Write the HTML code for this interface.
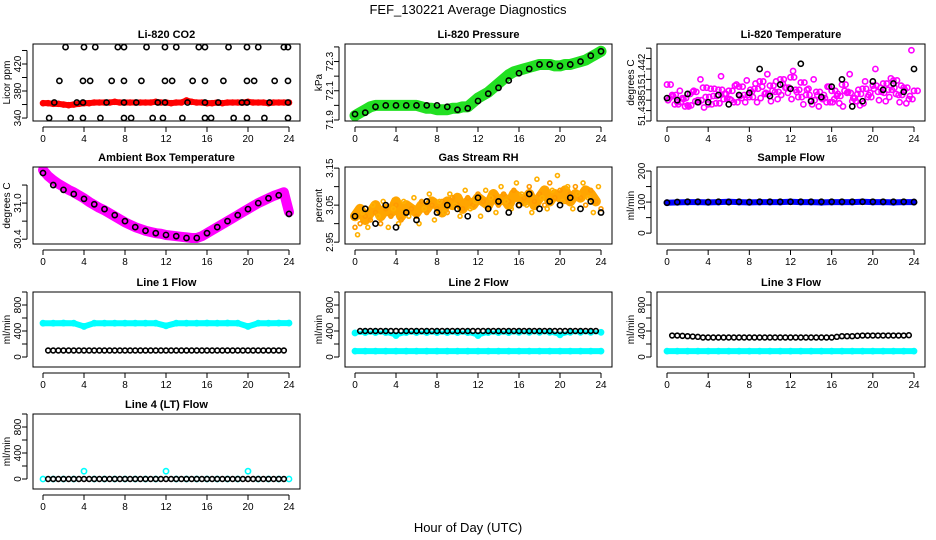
<!DOCTYPE html>
<html><head><meta charset="utf-8"><style>
body{margin:0;background:#fff;}
svg{display:block;font-family:"Liberation Sans",sans-serif;}
</style></head><body>
<svg id="c" width="936" height="540" viewBox="0 0 936 540" xmlns="http://www.w3.org/2000/svg">
<text x="468" y="14" text-anchor="middle" font-size="13">FEF_130221  Average Diagnostics</text>
<text x="468" y="532" text-anchor="middle" font-size="13">Hour of Day (UTC)</text>
</svg>
<script>
const xTicks=[0,4,8,12,16,20,24];
const co2Red=[362,362,361,361,360,359,360,361,362,362,363,363,363,363,364,363,363,363,363,363,363,363,364,363,363,362,363,363,366,364,363,363,362,362,363,362,363,363,363,363,364,363,363,363,362,363,363,363,363];
const co2BlackX=[2.2,4,5.1,7.3,7.9,10.1,11.9,13,15.2,15.8,18.1,19.9,21,23.5,23.9,1.6,3.9,4.6,6.7,7.9,9.6,11.9,12.6,14.6,15.8,17.6,19.9,20.6,22.6,23.9,1.1,3.3,3.9,6.2,7.9,9.1,11.2,11.9,14.1,15.8,17.1,19.4,19.9,22.1,23.9,0.6,2.7,3.9,5.6,7.9,8.6,10.7,11.7,13.6,15.8,16.4,18.6,19.9,21.6,23.9];
const co2BlackY=[445,445,445,445,445,445,445,445,445,445,445,445,445,445,445,395,395,395,395,395,395,395,395,395,395,395,395,395,395,395,363,363,363,363,363,363,363,363,363,363,363,363,363,363,363,340,340,340,340,340,340,340,340,340,340,340,340,340,340,340];
const presGreen=[71.93,71.95,71.97,71.99,72.0,72.0,72.0,72.0,72.0,72.0,72.0,72.0,72.0,71.99,71.98,71.98,71.97,71.97,71.97,71.98,71.98,71.99,71.99,72.02,72.05,72.07,72.09,72.12,72.15,72.18,72.21,72.23,72.24,72.25,72.26,72.27,72.28,72.28,72.28,72.27,72.27,72.28,72.28,72.29,72.3,72.31,72.33,72.35,72.37];
const presBlack=[71.94,71.95,71.99,72.0,72.0,72.0,72.0,72.0,72.0,71.99,71.97,71.98,72.03,72.08,72.12,72.17,72.22,72.25,72.28,72.28,72.27,72.28,72.3,72.34,72.37];
const tempM1=[51.4405,51.4395,51.4388,51.4392,51.4385,51.4398,51.4390,51.4402,51.4386,51.4394,51.4400,51.4391,51.4399,51.4388,51.4403,51.4395,51.4393,51.4401,51.4408,51.4396,51.4404,51.4398,51.4410,51.4402,51.4412,51.4400,51.4407,51.4395,51.4390,51.4398,51.4392,51.4388,51.4399,51.4394,51.4405,51.4397,51.4389,51.4396,51.4401,51.4393,51.4404,51.4398,51.4406,51.4400,51.4409,51.4395,51.4402,51.4391,51.4399];
const tempM2=[51.4392,51.4386,51.4399,51.4384,51.4396,51.4389,51.4410,51.4393,51.4401,51.4387,51.4413,51.4396,51.4390,51.4405,51.4392,51.4409,51.4398,51.4388,51.4403,51.4415,51.4399,51.4391,51.4406,51.4397,51.4418,51.4393,51.4386,51.4401,51.4410,51.4384,51.4395,51.4403,51.4391,51.4387,51.4399,51.4415,51.4392,51.4385,51.4408,51.4397,51.4420,51.4402,51.4389,51.4411,51.4396,51.4404,51.4387,51.4438];
const tempM3=[51.4390,51.4394,51.4386,51.4391,51.4384,51.4399,51.4388,51.4383,51.4393,51.4401,51.4387,51.4396,51.4391,51.4404,51.4394,51.4388,51.4400,51.4406,51.4392,51.4397,51.4389,51.4408,51.4395,51.4402,51.4391,51.4398,51.4393,51.4400,51.4386,51.4395,51.4391,51.4403,51.4388,51.4396,51.4384,51.4398,51.4392,51.4400,51.4387,51.4395,51.4401,51.4390,51.4397,51.4393,51.4402,51.4388,51.4400,51.4394];
const tempK=[51.4392,51.4390,51.4396,51.4388,51.4388,51.4395,51.4386,51.4395,51.4397,51.4420,51.4394,51.4405,51.4401,51.4425,51.4389,51.4393,51.4403,51.4410,51.4384,51.4389,51.4408,51.4400,51.4406,51.4398,51.4420];
const ambM=[31.55,31.45,31.38,31.32,31.27,31.22,31.18,31.13,31.08,31.02,30.97,30.92,30.88,30.83,30.78,30.73,30.68,30.64,30.6,30.57,30.54,30.52,30.5,30.49,30.47,30.46,30.45,30.44,30.43,30.42,30.42,30.45,30.5,30.55,30.6,30.65,30.7,30.75,30.8,30.85,30.9,30.95,31.0,31.04,31.08,31.12,31.15,31.18,30.85];
const ambK=[31.5,31.3,31.22,31.15,31.07,30.98,30.9,30.8,30.7,30.6,30.54,30.5,30.47,30.45,30.42,30.42,30.5,30.6,30.7,30.8,30.9,31.0,31.08,31.13,30.82];
const rh1=[2.99,3.00,3.02,3.01,3.03,3.00,3.04,3.02,3.05,3.01,3.03,3.04,3.02,3.06,3.03,3.05,3.04,3.06,3.03,3.07,3.05,3.04,3.07,3.05,3.08,3.06,3.04,3.07,3.05,3.08,3.06,3.09,3.05,3.07,3.10,3.06,3.08,3.05,3.11,3.07,3.09,3.06,3.08,3.10,3.07,3.05,3.09,3.06,3.04];
const rh2=[2.97,3.03,2.99,3.05,3.02,3.06,2.99,3.04,3.00,3.06,3.02,3.07,3.00,3.04,3.08,3.01,3.06,3.03,3.08,3.05,3.02,3.09,3.04,3.06,3.02,3.09,3.07,3.03,3.10,3.06,3.04,3.11,3.08,3.05,3.03,3.12,3.07,3.04,3.09,3.13,3.06,3.10,3.04,3.08,3.11,3.07,3.03,3.10];
const rh3=[3.02,3.04,3.01,3.03,3.05,3.02,3.04,3.03,3.06,3.02,3.05,3.04,3.03,3.05,3.04,3.06,3.05,3.03,3.06,3.05,3.07,3.04,3.06,3.05,3.07,3.06,3.05,3.08,3.06,3.07,3.05,3.08,3.07,3.06,3.08,3.05,3.07,3.09,3.06,3.08,3.07,3.09,3.06,3.08,3.07,3.09,3.08,3.06];
const rhK=[3.02,3.04,3.00,3.05,2.99,3.03,3.01,3.06,3.03,3.05,3.04,3.02,3.07,3.04,3.06,3.03,3.05,3.08,3.04,3.06,3.05,3.07,3.04,3.06,3.03];
const sampleBlue=[98,99,100,100,99,100,101,100,99,100,100,100,101,100,100,99,100,100,100,101,100,100,99,100,100];
const sampleBlack=[98,100,101,101,100,101,100,101,100,101,101,101,101,101,101,101,101,101,101,101,101,101,101,101,100];
const line1Cyan=[520,520,522,520,470,520,520,520,520,520,520,520,480,520,520,520,522,520,522,520,470,520,520,522,522];
const line1Black=[100,100,100,100,100,100,100,100,100,100,100,100,100,100,100,100,100,100,100,100,100,100,100,100,100,100,100,100,100,100,100,100,100,100,100,100,100,100,100,100,100,100,100,100,100,100,100];
const line2Cyan=[90,90,90,90,90,90,90,90,90,90,90,90,90,90,90,90,90,90,90,90,90,90,90,90,90];
const line2CyanHi=[370,375,375,375,330,375,375,375,375,375,375,375,330,375,375,375,380,380,380,380,340,380,380,380,380];
const line2Black=[400,400,400,400,400,400,400,400,400,400,400,400,400,400,400,400,400,400,400,400,400,400,400,400,400,400,400,400,400,400,400,400,400,400,400,400,400,400,400,400,400,400,400,400,400,400,400];
const line3Cyan=[90,90,90,90,90,90,90,90,90,90,90,90,90,90,90,90,90,90,90,90,90,90,90,90,90];
const line3Black=[330,330,325,320,315,310,300,300,300,300,300,300,300,300,300,300,300,300,300,300,300,300,300,300,300,300,300,300,300,300,300,300,310,320,320,320,325,330,330,330,330,330,330,330,330,330,335];
const line4Cyan=[0,0,0,0,120,0,0,0,0,0,0,0,120,0,0,0,0,0,0,0,120,0,0,0,0];
const line4Black=[0,0,0,0,0,0,0,0,0,0,0,0,0,0,0,0,0,0,0,0,0,0,0,0,0,0,0,0,0,0,0,0,0,0,0,0,0,0,0,0,0,0,0,0,0,0,0];

const svg=document.getElementById('c');
const NS='http://www.w3.org/2000/svg';
function mk(tag,attrs,parent){const e=document.createElementNS(NS,tag);for(const k in attrs)e.setAttribute(k,attrs[k]);(parent||svg).appendChild(e);return e;}
const cols=[[33,300],[345,612],[657,925]];
const rows=[[44,121],[167,244],[292,367],[414,489]];

function panel(name,col,row,title,ylab,ylim,yt,ytl,series){
  const g=mk('g',{});
  
  
  const [L,R]=cols[col],[T,B]=rows[row];
  const x0=L+10,x1=R-11;
  const sx=v=>x0+(x1-x0)*v/24;
  const sy=v=>B-(B-T)*(v-ylim[0])/(ylim[1]-ylim[0]);
  const t=mk('text',{x:(L+R)/2,y:T-6,'text-anchor':'middle','font-size':'11','font-weight':'bold'},g);
  t.textContent=title;
  
  
  const clip='cl'+name;
  const cp=mk('clipPath',{id:clip},g);mk('rect',{x:L,y:T,width:R-L,height:B-T},cp);
  const pg=mk('g',{'clip-path':'url(#'+clip+')'},g);
  series.forEach(s=>{
    const n=s.y.length;
    const xs=s.y.map((v,i)=>s.x?s.x[i]:s.start+i*s.step);
    if(s.band){
      const p=mk('polyline',{points:xs.map((x,i)=>sx(x)+','+sy(s.y[i])).join(' '),fill:'none',stroke:s.color,'stroke-width':s.band,'stroke-linejoin':'round','stroke-linecap':'round'},pg);
      
      
    }
    if(s.pts!==false){
      for(let i=0;i<n;i++){
        const c=mk('circle',{cx:sx(xs[i]),cy:sy(s.y[i]),r:s.r||2.6,fill:'none',stroke:s.color,'stroke-width':s.sw||1.6},pg);
        
        
      }
    }
  });
  mk('rect',{x:L,y:T,width:R-L,height:B-T,fill:'none',stroke:'#000','stroke-width':1},g);
  mk('line',{x1:x0,x2:x1,y1:B+6,y2:B+6,stroke:'#000'},g);
  xTicks.forEach(v=>{mk('line',{x1:sx(v),x2:sx(v),y1:B+6,y2:B+11,stroke:'#000'},g);
      const tl=mk('text',{x:sx(v),y:B+21,'text-anchor':'middle','font-size':'10'},g);tl.textContent=v;
      
      
  });
  mk('line',{x1:L-6,x2:L-6,y1:sy(yt[0]),y2:sy(yt[yt.length-1]),stroke:'#000'},g);
  yt.forEach((v,i)=>{mk('line',{x1:L-6,x2:L-11,y1:sy(v),y2:sy(v),stroke:'#000'},g);
    if(ytl[i]!==''){const tl=mk('text',{x:0,y:0,'text-anchor':'middle','font-size':'10',transform:`translate(${L-12},${sy(v)}) rotate(-90)`},g);tl.textContent=ytl[i];
    
    }
  });
  const yl=mk('text',{x:0,y:0,'text-anchor':'middle','font-size':'10',transform:`translate(${L-23},${(T+B)/2}) rotate(-90)`},g);
  yl.textContent=ylab;
  
  
}
const flowT=[0,200,400,600,800,1000],flowL=['0','','400','','800',''];
panel('co2',0,0,'Li-820 CO2','Licor ppm',[335.6,449.6],[340,360,380,400,420,440],['340','','380','','420',''],
 [{start:0,step:0.5,y:co2Red,color:'#ff0000',band:6,r:2.5},{x:co2BlackX,y:co2BlackY,color:'#000'}]);
panel('pressure',1,0,'Li-820 Pressure','kPa',[71.893,72.42],[71.9,72.0,72.1,72.2,72.3,72.4],['71.9','','72.1','','72.3',''],
 [{start:0,step:0.5,y:presGreen,color:'#22e022',band:11,pts:false},{start:0,step:1,y:presBlack,color:'#000'}]);
panel('li820-temp',2,0,'Li-820 Temperature','degrees C',[51.437,51.4444],[51.437,51.438,51.439,51.44,51.441,51.442,51.443,51.444],['','51.438','','51','','51.442','',''],
 [{start:0,step:0.5,y:tempM1,color:'#ff00ff'},{start:0.25,step:0.5,y:tempM2,color:'#ff00ff'},{start:0.1,step:0.5,y:tempM3,color:'#ff00ff'},{start:0.35,step:0.5,y:tempM1,color:'#ff00ff'},{start:0,step:1,y:tempK,color:'#000'}]);
panel('ambient-temp',0,1,'Ambient Box Temperature','degrees C',[30.32,31.6],[30.4,30.7,31.0,31.3],['30.4','','31.0',''],
 [{start:0,step:0.5,y:ambM,color:'#ff00ff',band:10,pts:false},{start:0,step:1,y:ambK,color:'#000'}]);
panel('gas-rh',1,1,'Gas Stream RH','percent',[2.945,3.153],[2.95,3.0,3.05,3.1,3.15],['2.95','','3.05','','3.15'],
 [{start:0,step:0.5,y:rh3,color:'#ffa500',band:10,pts:false},{start:0,step:0.5,y:rh1,color:'#ff9a00',r:2},{start:0.25,step:0.5,y:rh2,color:'#ffb000',r:2},{start:0,step:1,y:rhK,color:'#000'}]);
panel('sample-flow',2,1,'Sample Flow','ml/min',[-35,213],[0,50,100,150,200],['0','','100','','200'],
 [{start:0,step:1,y:sampleBlue,color:'#0000ff',band:6},{start:0,step:1,y:sampleBlack,color:'#000'}]);
panel('line1-flow',0,2,'Line 1 Flow','ml/min',[-154,1000],flowT,flowL,
 [{start:0,step:1,y:line1Cyan,color:'#00ffff',band:6},{start:0.5,step:0.5,y:line1Black,color:'#000',r:2.4}]);
panel('line2-flow',1,2,'Line 2 Flow','ml/min',[-154,1000],flowT,flowL,
 [{start:0,step:1,y:line2Cyan,color:'#00ffff',band:6},{start:0,step:1,y:line2CyanHi,color:'#00ffff',band:4},{start:0.5,step:0.5,y:line2Black,color:'#000',r:2.4}]);
panel('line3-flow',2,2,'Line 3 Flow','ml/min',[-154,1000],flowT,flowL,
 [{start:0,step:1,y:line3Cyan,color:'#00ffff',band:6},{start:0.5,step:0.5,y:line3Black,color:'#000',r:2.4}]);
panel('line4-flow',0,3,'Line 4 (LT) Flow','ml/min',[-154,1000],flowT,flowL,
 [{start:0,step:1,y:line4Cyan,color:'#00ffff'},{start:0.5,step:0.5,y:line4Black,color:'#000',r:2.4}]);
</script>
</body></html>
